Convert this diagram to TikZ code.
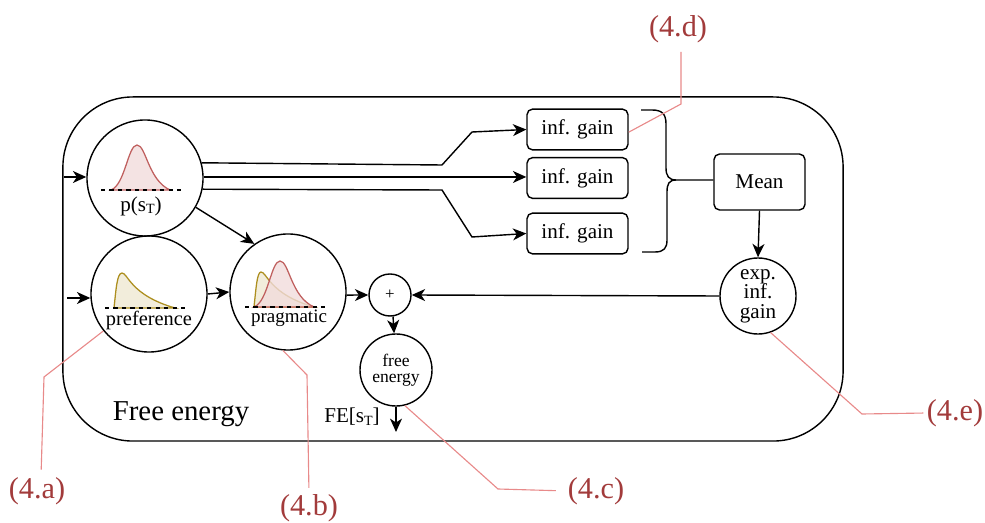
\documentclass[tikz,border=0pt]{standalone}
\usepackage{fontspec}
\setmainfont{Liberation Serif}
\usetikzlibrary{arrows.meta}
\definecolor{notecolor}{HTML}{A23B3B}
\definecolor{noteline}{HTML}{E88A8A}
\definecolor{redpdf}{HTML}{C0605F}
\definecolor{yellowpdf}{HTML}{AD8F1F}
\newcommand{\statesub}{s\raisebox{-0.3ex}{\fontsize{10}{10}\selectfont T}}

\begin{document}
\begin{tikzpicture}[
    x=0.025cm, y=-0.025cm, line width=1pt,
    arrow/.style={-{Stealth[length=9.5pt,width=8.5pt,inset=2.8pt]}},
    belief/.style={circle, draw, minimum size=2.9cm, inner sep=0pt},
    gainbox/.style={rectangle, draw, rounded corners=4pt, minimum width=2.525cm, minimum height=1.02cm, inner sep=0pt, font=\fontsize{15}{15}\selectfont},
    caption/.style={inner sep=0pt, font=\fontsize{15}{15}\selectfont},
    note/.style={inner sep=0pt, text=notecolor, font=\fontsize{21.5}{21.5}\selectfont},
    noteedge/.style={draw=noteline, line width=0.8pt},
    redcurve/.style={draw=redpdf, fill=redpdf!22, fill opacity=0.8, line width=0.9pt},
    yellowcurve/.style={draw=yellowpdf, fill=yellowpdf!20, fill opacity=0.8, line width=0.9pt}
]
\useasboundingbox (0,0) rectangle (985,523);

\node[draw, rectangle, rounded corners=1.75cm, minimum width=19.5cm, minimum height=8.6cm, inner sep=0pt] (frame) at (453,269) {};
\node[inner sep=0pt, font=\fontsize{20.5}{20.5}\selectfont] (frametitle) at (181,414) {Free energy};

% distributions
\draw[redcurve] (111,190) .. controls (125,185) and (128,145) .. (137,145) .. controls (146,145) and (148,180) .. (170,190) -- cycle;
\draw[yellowcurve] (114,308) .. controls (116,290) and (117,273) .. (122,273) .. controls (128,273) and (130,295) .. (175,308) -- cycle;
\draw[yellowcurve] (254,307) .. controls (256,289) and (257,272) .. (261,272) .. controls (267,272) and (269,294) .. (314,307) -- cycle;
\draw[redcurve] (254,307) .. controls (268,302) and (271,261) .. (280,261) .. controls (289,261) and (291,297) .. (314,307) -- cycle;
\draw[dashed] (101,190) -- (184,190);
\draw[dashed] (105,308) -- (188,308);
\draw[dashed] (245,307) -- (328,307);

\node[belief] (pst) at (145,178) {};
\node[belief] (pref) at (149,294) {};
\node[belief] (prag) at (288,292) {};
\node[caption] (psttext) at (141,206) {p(\statesub)};
\node[caption, font=\fontsize{14.5}{14.5}\selectfont] (preftext) at (149,320) {preference};
\node[caption, font=\fontsize{13.5}{13.5}\selectfont] (pragtext) at (289,318) {pragmatic};

\node[circle, draw, minimum size=1.05cm, inner sep=0pt, font=\fontsize{12}{12}\selectfont] (plus) at (390,295) {+};
\node[circle, draw, minimum size=1.8cm, inner sep=0pt, align=center, font=\fontsize{12.5}{11}\selectfont] (fe) at (396,370) {free\\energy};
\node[circle, draw, minimum size=1.9cm, inner sep=0pt, align=center, font=\fontsize{15}{14}\selectfont] (expgain) at (758,296) {exp.\\inf.\\gain};
\node[caption] (fetext) at (352,417) {FE[\statesub]};

\node[gainbox] (gaina) at (577.5,129.5) {inf. gain};
\node[gainbox] (gainb) at (577.5,178) {inf. gain};
\node[gainbox] (gainc) at (577.5,233.5) {inf. gain};
\node[gainbox, minimum width=2.275cm, minimum height=1.4cm] (mean) at (759.5,182) {Mean};

\coordinate (pstin) at (64,177);
\coordinate (prefin) at (67,298);
\coordinate (feout) at (396,432);

\draw[arrow] (pstin) -- (pstin -| pst.west);
\draw[arrow] (prefin) -- (prefin -| pref.west);
\draw[arrow] (pst.15) -- (442,165) -- (472,132) -- (gaina.west);
\draw[arrow] (pst.1) -- (pst.1 -| gainb.west);
\draw[arrow] (pst.-11) -- (442,190) -- (472,237) -- (gainc.west);
\draw[arrow] (pst.-30) -- (prag.125);
\draw[arrow] (pref.east) -- (prag.west);
\draw[arrow] (prag.-3) -- (plus.west);
\draw[arrow] (expgain.west) -- (plus.east);
\draw[arrow] (plus.-82) -- (fe.93);
\draw[arrow] (fe.south) -- (feout);
\draw[arrow] (mean.south) -- (expgain.north);

% brace towards the mean
\draw (641,110) -- (652,110) .. controls (662,110) and (666,114) .. (666,124) -- (666,168) .. controls (666,176) and (669,180) .. (676,180) -- (mean.west |- 0,180);
\draw (642,252) -- (655,252) .. controls (664,252) and (667,248) .. (667,240) -- (667,192) .. controls (667,184) and (669,180) .. (676,180);

% equation references
\node[note] (notea) at (37,491) {(4.a)};
\node[note] (noteb) at (309,508) {(4.b)};
\node[note] (notec) at (596,491) {(4.c)};
\node[note] (noted) at (678,29) {(4.d)};
\node[note] (notee) at (955,413) {(4.e)};

\draw[noteedge, shorten >=5pt] (pref.219) -- (44,377) -- (notea.north -| 41,0);
\draw[noteedge, shorten >=4pt] (prag.-95) -- (307,375) -- (noteb.north);
\draw[noteedge, shorten >=8pt] (fe.-76) -- (498,489) -- (notec.west);
\draw[noteedge, shorten >=6pt] (gaina.-3) -- (681,104) -- (noted.south -| 681,0);
\draw[noteedge, shorten >=2pt] (expgain.-71) -- (862,414) -- (notee.west);

\end{tikzpicture}
\end{document}
